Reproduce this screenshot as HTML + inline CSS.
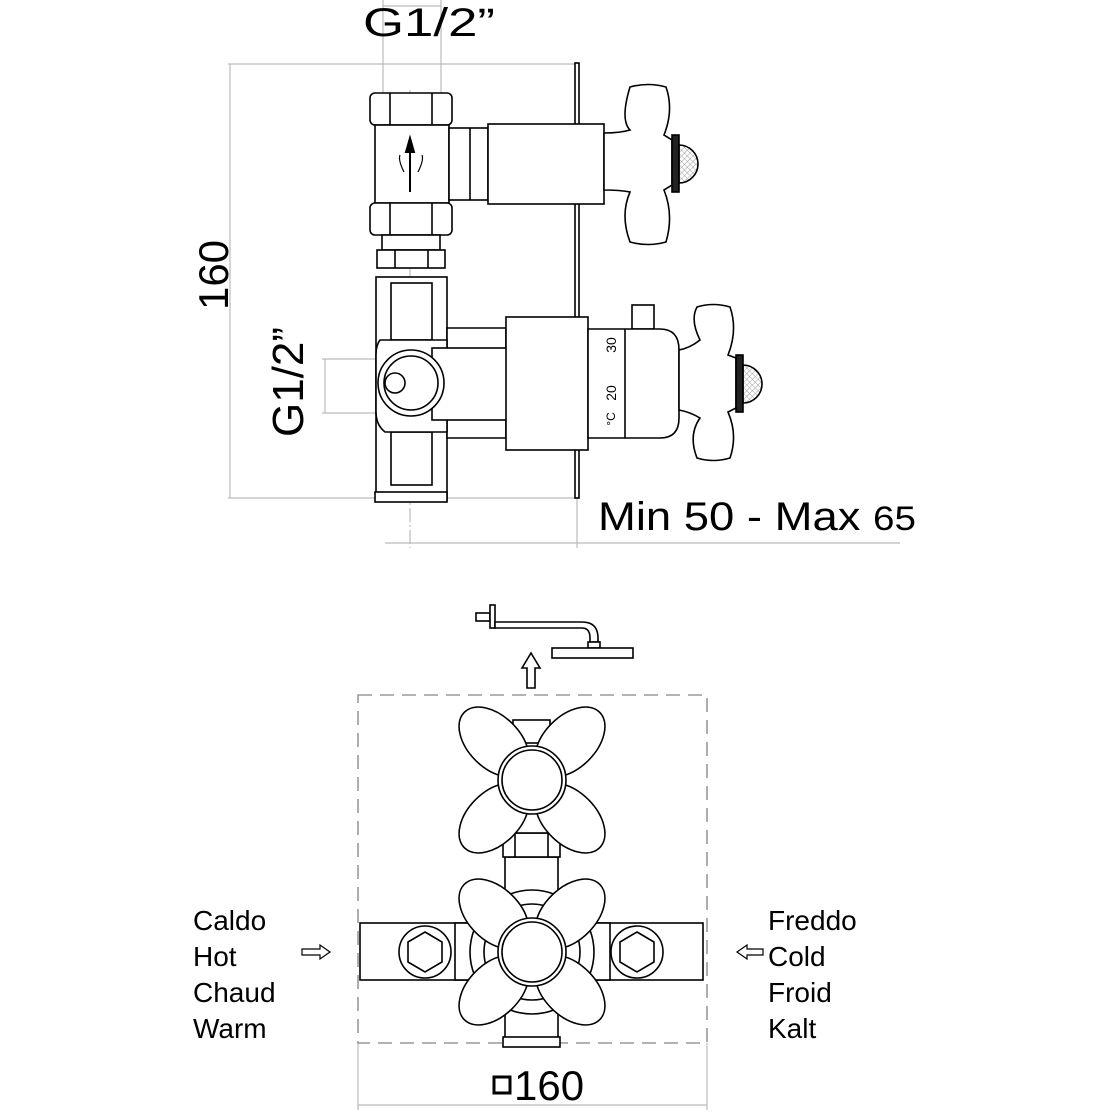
<!DOCTYPE html>
<html><head><meta charset="utf-8"><style>
html,body{margin:0;padding:0;background:#fff}
svg{display:block}
text{font-family:"Liberation Sans",Arial,sans-serif;fill:#000}
</style></head><body>
<svg width="1112" height="1112" viewBox="0 0 1112 1112" xmlns="http://www.w3.org/2000/svg">
<defs>
<pattern id="mesh" width="4" height="4" patternUnits="userSpaceOnUse" patternTransform="rotate(45)">
<path d="M0 0H4M0 0V4" stroke="#888" stroke-width="0.8"/>
</pattern>
</defs>
<g stroke="#bbb" stroke-width="1.2" fill="none">
<line x1="228" y1="64" x2="577" y2="64"/>
<line x1="228" y1="498" x2="577" y2="498"/>
<line x1="230" y1="64" x2="230" y2="498"/>
<line x1="383" y1="0" x2="383" y2="96"/>
<line x1="441" y1="0" x2="441" y2="96"/>
<line x1="383" y1="6" x2="441" y2="6"/>
<line x1="322" y1="359" x2="405" y2="359"/>
<line x1="322" y1="413" x2="405" y2="413"/>
<line x1="325" y1="359" x2="325" y2="413"/>
<line x1="385" y1="543" x2="900" y2="543"/>
<line x1="577" y1="498" x2="577" y2="548"/>
<line x1="410" y1="90" x2="410" y2="548" stroke-dasharray="14 3 2 3"/>
<line x1="358" y1="1043" x2="358" y2="1110"/>
<line x1="707" y1="1043" x2="707" y2="1110"/>
<line x1="358" y1="1105" x2="707" y2="1105"/>
</g>
<g stroke="#000" stroke-width="1.6" fill="#fff">
<rect x="575" y="63" width="4" height="435"/>
<rect x="370" y="93" width="82" height="32" rx="5"/>
<line x1="390" y1="93" x2="390" y2="125"/><line x1="432" y1="93" x2="432" y2="125"/>
<rect x="375" y="125" width="74" height="78"/>
<rect x="449" y="128" width="39" height="72"/>
<line x1="470" y1="128" x2="470" y2="200"/>
<rect x="488" y="124" width="116" height="80"/>
<rect x="370" y="203" width="82" height="32" rx="5"/>
<line x1="390" y1="203" x2="390" y2="235"/><line x1="432" y1="203" x2="432" y2="235"/>
<rect x="382" y="235" width="58" height="15"/>
<rect x="377" y="250" width="68" height="18"/>
<line x1="395" y1="250" x2="395" y2="268"/><line x1="428" y1="250" x2="428" y2="268"/>
<rect x="376" y="277" width="71" height="223"/>
<rect x="391" y="283" width="41" height="57"/>
<rect x="391" y="432" width="41" height="53"/>
<rect x="375" y="492" width="72" height="10"/>
<path d="M447 328 H506 V438 H447 Z"/>
<path d="M380 340 Q376 345 376 355 V412 Q376 425 385 432 L447 432 V340 Z"/>
<rect x="432" y="348" width="84" height="72"/>
<rect x="516" y="358" width="16" height="50"/>
<circle cx="411" cy="383" r="33"/>
<circle cx="411" cy="383" r="27"/>
<circle cx="395" cy="383" r="10"/>
<rect x="506" y="317" width="82" height="133"/>
<rect x="632" y="305" width="22" height="24"/>
<path d="M588 329 H660 Q679 329 679 350 V418 Q679 438 660 438 H588 Z"/>
<line x1="625" y1="329" x2="625" y2="438"/>
<path d="M604 133 Q620 133 630 130 Q620 120 630 87 Q648 82 666 87 Q674 110 664 135 L672 140 V185 L664 190 Q674 215 666 242 Q648 247 630 242 Q620 215 630 192 Q620 190 604 190 Z"/>
<rect x="672" y="135" width="7" height="57" fill="#222"/>
<path d="M679 145 A19 19 0 0 1 679 183 Z" fill="url(#mesh)"/>
<path d="M679 350 Q690 348 700 340 Q690 320 697 307 Q713 302 730 307 Q738 330 728 355 L736 358 V408 L728 412 Q738 435 730 458 Q713 463 697 458 Q688 435 700 418 Q690 412 679 410 Z"/>
<rect x="736" y="355" width="7" height="57" fill="#222"/>
<path d="M743 365 A19 19 0 0 1 743 403 Z" fill="url(#mesh)"/>
</g>
<g stroke="#000" stroke-width="2">
<line x1="410" y1="145" x2="410" y2="192"/>
<path d="M406 152 L410 138 L414 152 Z" fill="#000"/>
<path d="M404 172 Q398 160 400 155 M418 172 Q424 160 422 155" fill="none" stroke-width="1.2"/>
</g>
<text x="611" y="345" font-size="14" transform="rotate(-90 611 345)" text-anchor="middle" dy="5">30</text>
<text x="611" y="393" font-size="14" transform="rotate(-90 611 393)" text-anchor="middle" dy="5">20</text>
<text x="611" y="419" font-size="12" transform="rotate(-90 611 419)" text-anchor="middle" dy="4">°C</text>
<text x="363" y="36" font-size="40" textLength="132" lengthAdjust="spacingAndGlyphs">G1/2”</text>
<text x="0" y="0" font-size="42" transform="translate(228 275) rotate(-90)" text-anchor="middle">160</text>
<text x="0" y="0" font-size="44" transform="translate(303 382) rotate(-90)" text-anchor="middle">G1/2”</text>
<text x="598" y="530" font-size="40" textLength="318" lengthAdjust="spacingAndGlyphs">Min 50 - Max <tspan font-size="34">65</tspan></text>

<rect x="358" y="695" width="349" height="348" fill="none" stroke="#999" stroke-width="1.6" stroke-dasharray="14 8"/>
<g stroke="#000" stroke-width="1.6" fill="#fff">
<rect x="476" y="613" width="14" height="8"/>
<rect x="490" y="605" width="5" height="23"/>
<path d="M495 622 H582 Q598 622 598 638 V642 H590 V638 Q590 628 582 628 H495 Z"/>
<rect x="588" y="642" width="12" height="6"/>
<rect x="552" y="648" width="81" height="10"/>
<path d="M527 688 V668 H522 L531 653 L540 668 H535 V688 Z"/>
<rect x="360" y="923" width="343" height="57"/>
<rect x="455" y="923" width="45" height="57"/>
<rect x="565" y="923" width="45" height="57"/>
<circle cx="425" cy="952" r="26"/>
<polygon points="425,932 442,942 442,962 425,972 408,962 408,942"/>
<circle cx="637" cy="952" r="26"/>
<polygon points="637,932 654,942 654,962 637,972 620,962 620,942"/>
<rect x="505" y="857" width="53" height="186"/>
<rect x="503" y="1037" width="57" height="10"/>
<rect x="503" y="833" width="57" height="24"/>
<line x1="515" y1="833" x2="515" y2="857"/><line x1="548" y1="833" x2="548" y2="857"/>
<rect x="513" y="813" width="37" height="20"/>
<rect x="513" y="720" width="37" height="23"/>
<circle cx="532" cy="952" r="62" fill="none"/>
<circle cx="532" cy="952" r="48"/>
<g transform="translate(532 780)">
<ellipse cx="-38" cy="-38" rx="42" ry="26" transform="rotate(45 -38 -38)"/>
<ellipse cx="38" cy="-38" rx="42" ry="26" transform="rotate(-45 38 -38)"/>
<ellipse cx="-38" cy="38" rx="42" ry="26" transform="rotate(-45 -38 38)"/>
<ellipse cx="38" cy="38" rx="42" ry="26" transform="rotate(45 38 38)"/>
<circle r="34"/><circle r="30"/>
</g>
<g transform="translate(532 952)">
<ellipse cx="-38" cy="-38" rx="42" ry="26" transform="rotate(45 -38 -38)"/>
<ellipse cx="38" cy="-38" rx="42" ry="26" transform="rotate(-45 38 -38)"/>
<ellipse cx="-38" cy="38" rx="42" ry="26" transform="rotate(-45 -38 38)"/>
<ellipse cx="38" cy="38" rx="42" ry="26" transform="rotate(45 38 38)"/>
<circle r="34"/><circle r="30"/>
</g>
<path d="M302 949 H320 V945 L330 952 L320 959 V955 H302 Z" stroke-width="1.2"/>
<path d="M763 949 H747 V945 L737 952 L747 959 V955 H763 Z" stroke-width="1.2"/>
<rect x="494" y="1077" width="16" height="16" stroke-width="3"/>
</g>
<g font-size="28">
<text x="193" y="930">Caldo</text><text x="193" y="966">Hot</text><text x="193" y="1002">Chaud</text><text x="193" y="1038">Warm</text>
<text x="768" y="930">Freddo</text><text x="768" y="966">Cold</text><text x="768" y="1002">Froid</text><text x="768" y="1038">Kalt</text>
</g>
<text x="514" y="1100" font-size="42">160</text>
</svg>
</body></html>
